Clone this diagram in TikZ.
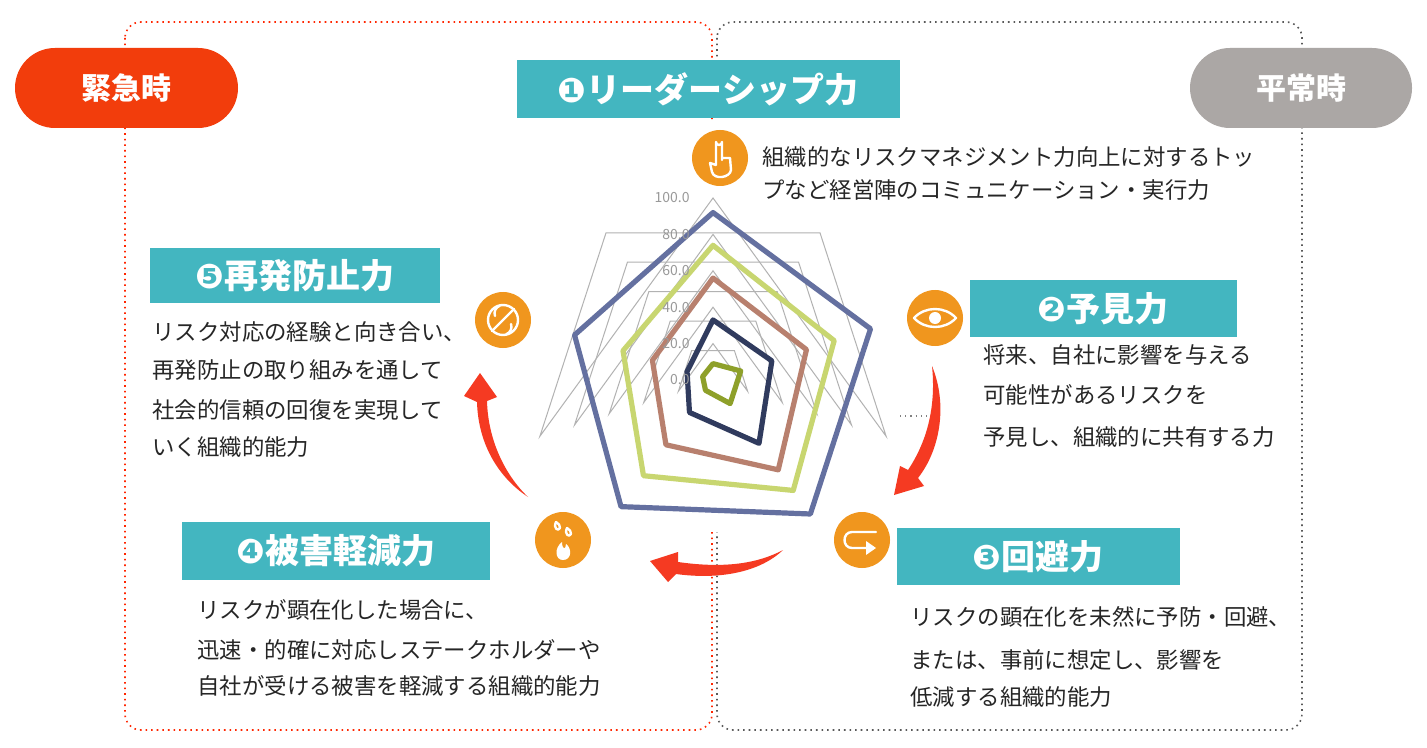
\documentclass[tikz,border=0pt]{standalone}
\usepackage{fontspec}
\setmainfont{Noto Sans CJK JP}
\newfontfamily\dv{DejaVu Sans}
\usetikzlibrary{calc}
\definecolor{teal1}{HTML}{43B6C0}
\definecolor{org}{HTML}{F0961E}
\definecolor{redpill}{HTML}{F23D0C}
\definecolor{graypill}{HTML}{ABA7A5}
\definecolor{arr}{HTML}{F53A22}
\definecolor{sA}{HTML}{6470A0}
\definecolor{sB}{HTML}{C8D670}
\definecolor{sC}{HTML}{B8806E}
\definecolor{sD}{HTML}{303B5E}
\definecolor{sE}{HTML}{8EA02A}
\tikzset{
 title/.style={fill=teal1,text=white,font=\fontsize{17}{20}\selectfont\bfseries,inner sep=0pt,anchor=north west},
 body/.style={anchor=west,inner sep=0pt,font=\fontsize{11.2}{13}\selectfont,text=black!85},
 pill/.style={rounded corners=20pt,inner sep=0pt,text=white,font=\fontsize{15}{18}\selectfont\bfseries},
 ico/.style={circle,fill=org,minimum size=28pt,inner sep=0pt},
 wl/.style={white,line width=1.2pt,line cap=round,line join=round},
 arrowfill/.style={fill=arr,draw=none},
 axl/.style={anchor=east,inner sep=0pt,text=gray!80,font=\fontsize{7}{8}\selectfont},
}
\begin{document}
\begin{tikzpicture}[x=0.5pt,y=-0.5pt]
\useasboundingbox (0,0) rectangle (1427,748);
\fill[white] (0,0) rectangle (1427,748);
% dotted frames
\draw[red!70!orange,dotted,line width=0.8pt,rounded corners=8pt] (125,22) rectangle (712,730);
\draw[gray!70!black,dotted,line width=0.8pt,rounded corners=8pt] (717,22) rectangle (1302,730);
\fill[white] (530,120) rectangle (905,532);
\draw[gray,dotted,line width=0.6pt] (900,416) -- (940,416);
% pills
\fill[redpill,rounded corners=20pt] (15,48) rectangle (238,128);
\node[text=white,font=\fontsize{15}{18}\selectfont\bfseries] (p1) at (126,88) {緊急時};
\fill[graypill,rounded corners=20pt] (1190,48) rectangle (1412,128);
\node[text=white,font=\fontsize{15}{18}\selectfont\bfseries] (p2) at (1301,88) {平常時};
% titles
\fill[teal1] (517,60) rectangle (900,118);
\node[text=white,font=\fontsize{17}{20}\selectfont\bfseries] (t1) at (708,89) {{\dv ❶}リーダーシップ力};
\fill[teal1] (150,248) rectangle (440,303);
\node[text=white,font=\fontsize{17}{20}\selectfont\bfseries] (t5) at (295,276) {{\dv ❺}再発防止力};
\fill[teal1] (970,280) rectangle (1237,337);
\node[text=white,font=\fontsize{17}{20}\selectfont\bfseries] (t2) at (1103,309) {{\dv ❷}予見力};
\fill[teal1] (182,522) rectangle (490,580);
\node[text=white,font=\fontsize{17}{20}\selectfont\bfseries] (t4) at (336,551) {{\dv ❹}被害軽減力};
\fill[teal1] (897,528) rectangle (1180,585);
\node[text=white,font=\fontsize{17}{20}\selectfont\bfseries] (t3) at (1038,557) {{\dv ❸}回避力};
% body texts
\node[body] (b1a) at (762,157) {組織的なリスクマネジメント力向上に対するトッ};
\node[body] (b1b) at (762,190) {プなど経営陣のコミュニケーション・実行力};
\node[body] (b2a) at (983,355) {将来、自社に影響を与える};
\node[body] (b2b) at (983,395) {可能性があるリスクを};
\node[body] (b2c) at (983,437) {予見し、組織的に共有する力};
\node[body] (b5a) at (152,332) {リスク対応の経験と向き合い、};
\node[body] (b5b) at (152,370) {再発防止の取り組みを通して};
\node[body] (b5c) at (152,410) {社会的信頼の回復を実現して};
\node[body] (b5d) at (152,447) {いく組織的能力};
\node[body] (b4a) at (197,610) {リスクが顕在化した場合に、};
\node[body] (b4b) at (197,650) {迅速・的確に対応しステークホルダーや};
\node[body] (b4c) at (197,686) {自社が受ける被害を軽減する組織的能力};
\node[body] (b3a) at (910,617) {リスクの顕在化を未然に予防・回避、};
\node[body] (b3b) at (910,660) {または、事前に想定し、影響を};
\node[body] (b3c) at (910,697) {低減する組織的能力};
% radar
\coordinate (O) at (713,380);
\def\R{182}
\foreach \l in {0.2,0.4,0.6,0.8,1.0}{
  \draw[gray!60,line width=0.5pt] ($(O)+(90:-\R*\l)$) -- ($(O)+(18:\R*\l)$)
   -- ($(O)+(-54:\R*\l)$) -- ($(O)+(-126:\R*\l)$) -- ($(O)+(162:\R*\l)$) -- cycle;
}
% note: y axis flipped, so angles mirrored; use explicit vertices
\foreach \col/\a/\b/\c/\d/\e in {sA/0.92/0.91/0.91/0.86/0.80, sB/0.74/0.70/0.75/0.65/0.52, sC/0.56/0.54/0.61/0.44/0.35, sD/0.33/0.34/0.43/0.22/0.15, sE/0.09/0.16/0.16/0.07/0.06}{
  \draw[\col,line width=2.6pt,line join=round]
   ($(O)+(0,-\R*\a)$) -- ($(O)+(-18:\R*\b)$) -- ($(O)+(54:\R*\c)$)
   -- ($(O)+(126:\R*\d)$) -- ($(O)+(198:\R*\e)$) -- cycle;
}
\foreach \v/\t in {0/0.0,1/20.0,2/40.0,3/60.0,4/80.0,5/100.0}{
  \node[axl] (ax\v) at (690,380-\v*36.4) {\t};
}
% arrows
\fill[arrowfill] (932,366) .. controls (948,405) and (940,450) .. (918,478) -- (924,486) -- (894,495) -- (900,466) -- (908,470) .. controls (928,440) and (936,405) .. (932,366) -- cycle;
\fill[arrowfill] (528,497) .. controls (495,475) and (478,440) .. (477,402) -- (464,396) -- (480,373) -- (497,397) -- (487,401) .. controls (488,440) and (505,475) .. (528,497) -- cycle;
\fill[arrowfill] (783,550) .. controls (760,572) and (720,580) .. (676,574) -- (668,582) -- (650,561) -- (678,552) -- (678,562) .. controls (720,568) and (755,565) .. (783,550) -- cycle;
% icons
\node[ico] (i1) at (720,158) {};
\node[ico] (i2) at (935,318) {};
\node[ico] (i5) at (503,320) {};
\node[ico] (i4) at (563,540) {};
\node[ico] (i3) at (862,540) {};
% icon 1 hand
\draw[wl] (716,165) -- (716,142) arc[start angle=180,end angle=0,radius=3] -- (722,160)
  (722,158) -- (730,158) -- (731,170) .. controls (730,178) and (714,180) .. (712,172) -- (710,163) -- (716,165);
% icon 2 eye
\draw[wl] (914,318) .. controls (925,306) and (945,306) .. (956,318) .. controls (945,330) and (925,330) .. (914,318) -- cycle;
\fill[white] (935,318) circle[radius=6];
% icon 5 no-cycle
\draw[wl] (503,320) circle[radius=15];
\draw[wl] (492,331) -- (514,309);
\draw[wl] (495,316) arc[start angle=160,end angle=250,radius=8];
\draw[wl] (511,324) arc[start angle=-20,end angle=70,radius=8];
% icon 4 drops & flame
\draw[wl] (556,522) .. controls (553,528) and (558,532) .. (560,528) .. controls (561,525) and (558,524) .. (556,522);
\draw[wl] (567,528) .. controls (564,534) and (569,538) .. (571,534) .. controls (572,531) and (569,530) .. (567,528);
\fill[white] (562,542) .. controls (554,548) and (555,560) .. (563,560) .. controls (572,560) and (572,548) .. (566,544) .. controls (566,550) and (562,550) .. (562,542) -- cycle;
% icon 3 u-turn arrow
\draw[wl] (876,532) -- (852,532) .. controls (842,532) and (842,548) .. (852,548) -- (866,548);
\fill[white] (866,541) -- (876,548) -- (866,555) -- cycle;
\end{tikzpicture}
\end{document}
